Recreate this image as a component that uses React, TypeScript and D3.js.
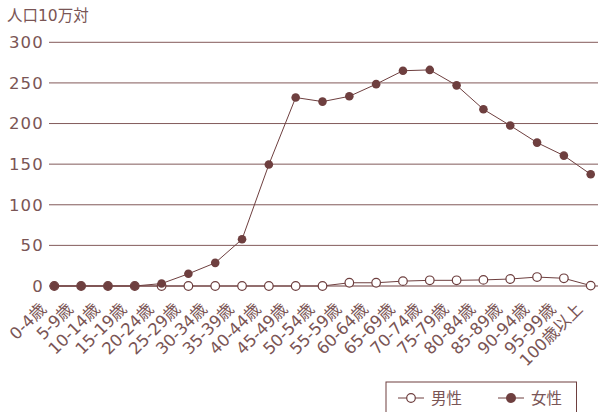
import React from "react";
import * as d3 from "d3";

const categories = ["0-4歳","5-9歳","10-14歳","15-19歳","20-24歳","25-29歳","30-34歳","35-39歳","40-44歳","45-49歳","50-54歳","55-59歳","60-64歳","65-69歳","70-74歳","75-79歳","80-84歳","85-89歳","90-94歳","95-99歳","100歳以上"];
const male = [0,0,0,0,0,0,0,0,0,0,0,4,4,6,7,7,7.5,8.6,11,9.5,0.5];
const female = [0,0,0,0,3,15,28.5,57.5,149.5,232,227,233.5,248.5,265,266,247,217.5,197.5,176.5,160.5,137.5];
const yTicks = [0,50,100,150,200,250,300];
const seriesNames = ["男性","女性"];

const W = 598, H = 412;
const C = "#6e3f3f";
const TXT = "#7a5555";
const FONT = "'DejaVu Sans', 'Noto Sans CJK JP', sans-serif";

export default function App() {
  const x = d3.scalePoint<string>().domain(categories).range([54.3, 590.7]);
  const y = d3.scaleLinear().domain([0, 300]).range([286, 42.3]);
  const line = d3.line<number>().x((_, i) => x(categories[i])!).y(d => y(d));
  return (
    <svg width={W} height={H} style={{ position: "absolute", left: 0, top: 0 }} fontFamily={FONT}>
      <text x={7} y={21} fontSize={15.5} fill={TXT}>人口10万対</text>
      {yTicks.map(t => (
        <g key={t}>
          <line x1={49} x2={598} y1={y(t)} y2={y(t)} stroke={C} strokeWidth={1} opacity={t === 0 ? 1 : 0.85} />
          <text x={44} y={y(t)} dy="0.36em" textAnchor="end" fontSize={16.5} letterSpacing={1.2} fill={TXT}>{t}</text>
        </g>
      ))}
      {categories.map(c => (
        <text key={c} transform={`translate(${x(c)! - 7},${310}) rotate(-45)`} textAnchor="end" fontSize={16.5} fill={TXT}>{c}</text>
      ))}
      <path d={line(male)!} fill="none" stroke={C} strokeWidth={1} />
      <path d={line(female)!} fill="none" stroke={C} strokeWidth={1} />
      {male.map((v, i) => (
        <circle key={"m" + i} cx={x(categories[i])} cy={y(v)} r={4.3} fill="#fff" stroke={C} strokeWidth={1.2} />
      ))}
      {female.map((v, i) => (
        <circle key={"f" + i} cx={x(categories[i])} cy={y(v)} r={4.3} fill={C} />
      ))}
      <rect x={386} y={382} width={190.5} height={40} fill="#fff" stroke={C} strokeWidth={1} />
      <line x1={398} x2={424} y1={398} y2={398} stroke={C} />
      <circle cx={411} cy={398} r={4.3} fill="#fff" stroke={C} strokeWidth={1.2} />
      <text x={431} y={398} dy="0.36em" fontSize={15.5} fill={TXT}>{seriesNames[0]}</text>
      <line x1={498} x2={524} y1={398} y2={398} stroke={C} />
      <circle cx={511} cy={398} r={5} fill={C} />
      <text x={531} y={398} dy="0.36em" fontSize={15.5} fill={TXT}>{seriesNames[1]}</text>
    </svg>
  );
}
